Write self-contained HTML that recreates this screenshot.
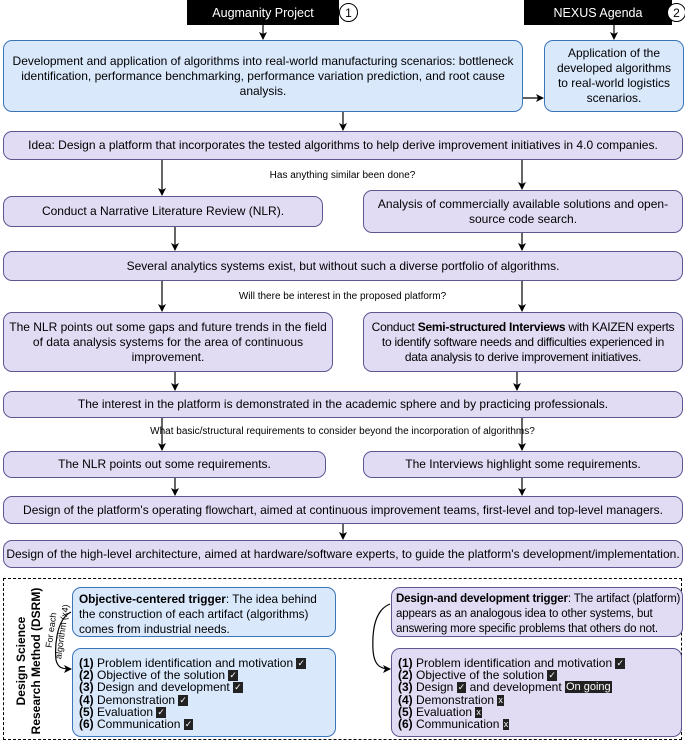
<!DOCTYPE html>
<html><head><meta charset="utf-8"><style>
body{margin:0;width:685px;height:743px;background:#fff;position:relative;overflow:hidden;font-family:"Liberation Sans",sans-serif;color:#000}
.b{position:absolute;box-sizing:border-box;display:flex;align-items:center;justify-content:center;text-align:center;font-size:12px;line-height:15px;border-radius:9px}
.bl{background:#dae8fc;border:1.3px solid #3a75b8}
.pu{background:#e1dcf3;border:1.3px solid #5d5790}
.blk{position:absolute;background:#000;color:#fff;font-size:12.5px;display:flex;align-items:center;justify-content:center}
.circ{position:absolute;width:19px;height:19px;border:1.5px solid #000;border-radius:50%;background:#fff;box-sizing:border-box;font-size:12px;display:flex;align-items:center;justify-content:center}
.q{position:absolute;font-size:10px;width:685px;text-align:center;left:0}
.l{text-align:left;justify-content:flex-start;padding-left:6px;align-items:flex-start}
.lst{font-size:12px}
.lst div{height:12.2px;line-height:12px;white-space:nowrap;overflow:visible}
.ck{display:inline-block;background:#222;color:#fff;font-size:9px;line-height:11px;height:11px;padding:0 1px;vertical-align:top;margin-top:1px}
svg{position:absolute;left:0;top:0}
</style></head><body>
<div class="blk" style="left:187px;top:0;width:152px;height:25px">Augmanity Project</div>
<div class="circ" style="left:339px;top:3px">1</div>
<div class="blk" style="left:524px;top:0;width:148px;height:25px">NEXUS Agenda</div>
<div class="circ" style="left:667px;top:3px">2</div>

<div class="b bl" style="left:3px;top:40px;width:520px;height:72px;padding:0 8px">Development and application of algorithms into real-world manufacturing scenarios: bottleneck identification, performance benchmarking, performance variation prediction, and root cause analysis.</div>
<div class="b bl" style="left:544px;top:40px;width:140px;height:72px;padding:0 6px">Application of the developed algorithms to real-world logistics scenarios.</div>
<div class="b pu" style="left:3px;top:131px;width:680px;height:29px">Idea: Design a platform that incorporates the tested algorithms to help derive improvement initiatives in 4.0 companies.</div>
<div class="q" style="top:170px">Has anything similar been done?</div>
<div class="b pu" style="left:3px;top:196px;width:320px;height:31px">Conduct a Narrative Literature Review (NLR).</div>
<div class="b pu" style="left:363px;top:190px;width:320px;height:43px;padding:0 10px">Analysis of commercially available solutions and open-source code search.</div>
<div class="b pu" style="left:3px;top:251px;width:680px;height:30px">Several analytics systems exist, but without such a diverse portfolio of algorithms.</div>
<div class="q" style="top:291px">Will there be interest in the proposed platform?</div>
<div class="b pu" style="left:3px;top:312px;width:330px;height:60px;padding:0 2px">The NLR points out some gaps and future trends in the field of data analysis systems for the area of continuous improvement.</div>
<div class="b pu" style="left:363px;top:312px;width:320px;height:60px;padding:0"><div style="letter-spacing:-0.25px">Conduct <b>Semi-structured Interviews</b> with KAIZEN experts<br>to identify software needs and difficulties experienced in<br>data analysis to derive improvement initiatives.</div></div>
<div class="b pu" style="left:3px;top:391px;width:680px;height:27px">The interest in the platform is demonstrated in the academic sphere and by practicing professionals.</div>
<div class="q" style="top:426px">What basic/structural requirements to consider beyond the incorporation of algorithms?</div>
<div class="b pu" style="left:3px;top:451px;width:323px;height:27px">The NLR points out some requirements.</div>
<div class="b pu" style="left:363px;top:451px;width:320px;height:27px">The Interviews highlight some requirements.</div>
<div class="b pu" style="left:3px;top:496px;width:680px;height:28px">Design of the platform's operating flowchart, aimed at continuous improvement teams, first-level and top-level managers.</div>
<div class="b pu" style="left:3px;top:540px;width:680px;height:28px">Design of the high-level architecture, aimed at hardware/software experts, to guide the platform's development/implementation.</div>

<div style="position:absolute;left:3px;top:578px;width:679px;height:162px;border:1.5px dashed #000;box-sizing:border-box"></div>
<div style="position:absolute;left:-55px;top:645px;width:170px;height:32px;transform:rotate(-90deg);font-size:12px;font-weight:bold;text-align:center;line-height:15px">Design Science<br>Research Method (DSRM)</div>
<div style="position:absolute;left:22px;top:620px;width:70px;transform:rotate(-82deg);font-size:9px;line-height:11px;text-align:center">For each<br>algorithm (x4)</div>

<div class="b bl l" style="left:72px;top:587px;width:264px;height:50px;padding-top:4px;font-size:11.8px">
<div><b>Objective-centered trigger</b>: The idea behind the construction of each artifact (algorithms) comes from industrial needs.</div></div>
<div class="b bl l" style="left:72px;top:648px;width:264px;height:89px;padding-top:8px">
<div class="lst"><div><b>(1)</b> Problem identification and motivation <span class="ck">✓</span></div><div><b>(2)</b> Objective of the solution <span class="ck">✓</span></div><div><b>(3)</b> Design and development <span class="ck">✓</span></div><div><b>(4)</b> Demonstration <span class="ck">✓</span></div><div><b>(5)</b> Evaluation <span class="ck">✓</span></div><div><b>(6)</b> Communication <span class="ck">✓</span></div></div></div>

<div class="b pu l" style="left:391px;top:587px;width:292px;height:50px;padding-top:4px;padding-left:4px;font-size:11.5px;letter-spacing:-0.15px">
<div><b>Design-and development trigger</b>: The artifact (platform) appears as an analogous idea to other systems, but answering more specific problems that others do not.</div></div>
<div class="b pu l" style="left:391px;top:648px;width:291px;height:89px;padding-top:8px">
<div class="lst"><div><b>(1)</b> Problem identification and motivation <span class="ck">✓</span></div><div><b>(2)</b> Objective of the solution <span class="ck">✓</span></div><div><b>(3)</b> Design <span class="ck">✓</span> and development <span class="ck" style="font-size:11px;line-height:12px;height:12px;margin-top:0">On going</span></div><div><b>(4)</b> Demonstration <span class="ck">x</span></div><div><b>(5)</b> Evaluation <span class="ck">x</span></div><div><b>(6)</b> Communication <span class="ck">x</span></div></div></div>

<svg width="685" height="743">
<defs><marker id="a" markerWidth="8" markerHeight="8" refX="7" refY="4" orient="auto" markerUnits="userSpaceOnUse"><path d="M0,0 L8,4 L0,8 L2,4z" fill="#000"/></marker></defs>
<g stroke="#000" stroke-width="1.2" fill="none" marker-end="url(#a)">
<line x1="263" y1="25" x2="263" y2="39"/>
<line x1="614" y1="25" x2="614" y2="39"/>
<line x1="523" y1="98" x2="543" y2="98"/>
<line x1="343" y1="112" x2="343" y2="130"/>
<line x1="162" y1="160" x2="162" y2="195"/>
<line x1="522" y1="160" x2="522" y2="189"/>
<line x1="175" y1="227" x2="175" y2="250"/>
<line x1="522" y1="233" x2="522" y2="250"/>
<line x1="162" y1="281" x2="162" y2="311"/>
<line x1="522" y1="281" x2="522" y2="311"/>
<line x1="175" y1="372" x2="175" y2="390"/>
<line x1="517" y1="372" x2="517" y2="390"/>
<line x1="162" y1="418" x2="162" y2="450"/>
<line x1="522" y1="418" x2="522" y2="450"/>
<line x1="175" y1="478" x2="175" y2="495"/>
<line x1="522" y1="478" x2="522" y2="495"/>
<line x1="343" y1="524" x2="343" y2="539"/>
<path d="M71,612 C55,620 55,650 56,660 C58,668 62,669 71,669"/>
<path d="M390,604 C375,610 372,630 373,650 C374,665 380,669 390,669"/>
</g>
</svg>
</body></html>
